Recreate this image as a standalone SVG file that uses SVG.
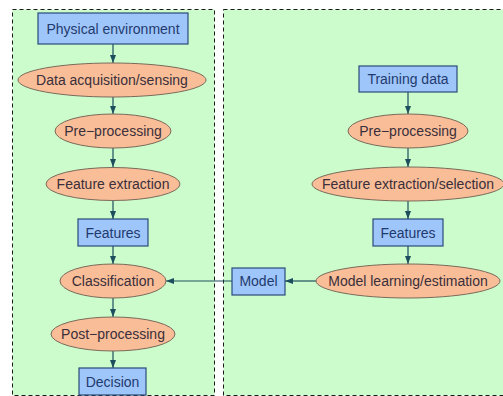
<svg xmlns="http://www.w3.org/2000/svg" width="503" height="396" viewBox="0 0 503 396">
<defs>
<style>
.panel{fill:#ccfccc;stroke:#1a1a1a;stroke-width:1;stroke-dasharray:4,3}
.box{fill:#9fc6fa;stroke:#2a4a7a;stroke-width:1.2}
.ell{fill:#f9bd98;stroke:#7a6a5a;stroke-width:1}
.bt{font-family:"Liberation Sans",Arial,sans-serif;font-size:14px;fill:#1f3a6e;text-anchor:middle}
.et{font-family:"Liberation Sans",Arial,sans-serif;font-size:14px;fill:#3a2f3a;text-anchor:middle}
.edge{stroke:#1d4e5e;stroke-width:1.2;fill:none;marker-end:url(#ah)}
</style>
<marker id="ah" viewBox="0 0 8 6" refX="8" refY="3" markerWidth="8" markerHeight="6" markerUnits="userSpaceOnUse" orient="auto">
<path d="M0,0 L8,3 L0,6 Z" fill="#1d4e5e"/>
</marker>
</defs>
<rect x="0" y="0" width="503" height="396" fill="#ffffff"/>
<rect class="panel" x="12.5" y="9.5" width="202" height="386"/>
<rect class="panel" x="223.5" y="9.5" width="290" height="386"/>

<g id="connectors">
<line class="edge" x1="113" y1="44" x2="113" y2="63"/>
<line class="edge" x1="113" y1="97" x2="113" y2="114"/>
<line class="edge" x1="113" y1="148" x2="113" y2="167"/>
<line class="edge" x1="113" y1="200" x2="113" y2="219"/>
<line class="edge" x1="113" y1="246" x2="113" y2="264"/>
<line class="edge" x1="113" y1="298" x2="113" y2="317"/>
<line class="edge" x1="113" y1="351" x2="113" y2="368"/>
<line class="edge" x1="408" y1="92" x2="408" y2="114"/>
<line class="edge" x1="408" y1="148" x2="408" y2="167"/>
<line class="edge" x1="408" y1="201" x2="408" y2="219"/>
<line class="edge" x1="408" y1="246" x2="408" y2="264"/>
<line class="edge" x1="316" y1="281" x2="285" y2="281"/>
<line class="edge" x1="232" y1="281" x2="166" y2="281"/>
</g>

<g id="physical-environment"><rect class="box" x="38" y="13" width="150" height="31"/><text class="bt" x="113" y="33.5">Physical environment</text></g>
<g id="data-acquisition"><ellipse class="ell" cx="112" cy="80" rx="94" ry="17"/><text class="et" x="112" y="85">Data acquisition/sensing</text></g>
<g id="pre-processing-left"><ellipse class="ell" cx="113" cy="131" rx="58" ry="17"/><text class="et" x="113" y="136">Pre−processing</text></g>
<g id="feature-extraction"><ellipse class="ell" cx="113" cy="184" rx="67" ry="16.5"/><text class="et" x="113" y="189">Feature extraction</text></g>
<g id="features-left"><rect class="box" x="78" y="219" width="70" height="27"/><text class="bt" x="113" y="237.5">Features</text></g>
<g id="classification"><ellipse class="ell" cx="113" cy="281" rx="53" ry="17"/><text class="et" x="113" y="286">Classification</text></g>
<g id="post-processing"><ellipse class="ell" cx="113" cy="334" rx="62" ry="17"/><text class="et" x="113" y="339">Post−processing</text></g>
<g id="decision"><rect class="box" x="79" y="368" width="67" height="27"/><text class="bt" x="112.5" y="386.5">Decision</text></g>

<g id="training-data"><rect class="box" x="359" y="66" width="98" height="26"/><text class="bt" x="408" y="84">Training data</text></g>
<g id="pre-processing-right"><ellipse class="ell" cx="408" cy="131" rx="60" ry="17"/><text class="et" x="408" y="136">Pre−processing</text></g>
<g id="feature-extraction-selection"><ellipse class="ell" cx="408" cy="184" rx="96" ry="17"/><text class="et" x="408" y="189">Feature extraction/selection</text></g>
<g id="features-right"><rect class="box" x="373" y="219" width="70" height="27"/><text class="bt" x="408" y="237.5">Features</text></g>
<g id="model-learning"><ellipse class="ell" cx="408" cy="281" rx="92" ry="17"/><text class="et" x="408" y="286">Model learning/estimation</text></g>
<g id="model"><rect class="box" x="232" y="268" width="53" height="27"/><text class="bt" x="258.5" y="286">Model</text></g>
</svg>
